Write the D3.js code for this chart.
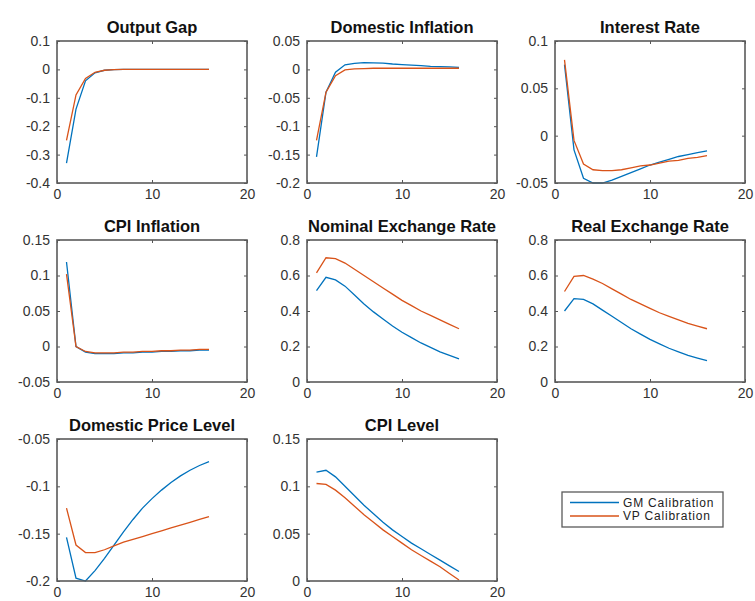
<!DOCTYPE html>
<html>
<head>
<meta charset="UTF-8">
<title>Impulse responses</title>
<script src="https://cdn.jsdelivr.net/npm/d3@7"></script>
<style>
  body { margin: 0; background: #fff; }
  text { font-family: "Liberation Sans", Arial, sans-serif; }
</style>
</head>
<body>
<svg id="chart"></svg>
<script>
var W = 755, H = 601;

var periods = d3.range(1, 17);

var titles = ["Output Gap", "Domestic Inflation", "Interest Rate",
              "CPI Inflation", "Nominal Exchange Rate", "Real Exchange Rate",
              "Domestic Price Level", "CPI Level"];

var seriesNames = ["GM Calibration", "VP Calibration"];

// GM calibration (blue)
var gmOutputGap = [-0.33, -0.14, -0.04, -0.012, -0.003, -0.001, 0, 0, 0, 0, 0, 0, 0, 0, 0, 0];
var gmDomInfl = [-0.154, -0.04, -0.005, 0.008, 0.0105, 0.012, 0.0115, 0.011, 0.0095, 0.0085, 0.0075, 0.0065, 0.0055, 0.005, 0.0045, 0.0035];
var gmInterest = [0.075, -0.015, -0.045, -0.05, -0.05, -0.047, -0.043, -0.039, -0.035, -0.031, -0.028, -0.025, -0.022, -0.02, -0.018, -0.016];
var gmCpiInfl = [0.119, 0.0, -0.008, -0.01, -0.01, -0.01, -0.009, -0.009, -0.008, -0.008, -0.007, -0.007, -0.006, -0.006, -0.005, -0.005];
var gmNominal = [0.515, 0.59, 0.575, 0.54, 0.49, 0.44, 0.395, 0.355, 0.315, 0.28, 0.25, 0.22, 0.195, 0.17, 0.15, 0.13];
var gmReal = [0.40, 0.47, 0.465, 0.44, 0.405, 0.37, 0.335, 0.30, 0.27, 0.24, 0.215, 0.19, 0.17, 0.15, 0.135, 0.12];
var gmDomPrice = [-0.154, -0.197, -0.200, -0.189, -0.176, -0.162, -0.148, -0.135, -0.123, -0.113, -0.104, -0.096, -0.089, -0.083, -0.078, -0.074];
var gmCpiLevel = [0.115, 0.117, 0.110, 0.100, 0.090, 0.080, 0.071, 0.062, 0.054, 0.047, 0.040, 0.034, 0.028, 0.022, 0.016, 0.010];

// VP calibration (orange)
var vpOutputGap = [-0.25, -0.09, -0.032, -0.01, -0.003, -0.001, 0, 0, 0, 0, 0, 0, 0, 0, 0, 0];
var vpDomInfl = [-0.125, -0.04, -0.011, -0.001, 0.001, 0.0015, 0.002, 0.002, 0.002, 0.002, 0.002, 0.002, 0.002, 0.002, 0.002, 0.002];
var vpInterest = [0.08, -0.005, -0.03, -0.036, -0.037, -0.037, -0.036, -0.034, -0.032, -0.031, -0.029, -0.027, -0.026, -0.024, -0.023, -0.021];
var vpCpiInfl = [0.102, 0.0, -0.007, -0.009, -0.009, -0.009, -0.008, -0.008, -0.007, -0.007, -0.006, -0.006, -0.005, -0.005, -0.004, -0.004];
var vpNominal = [0.615, 0.70, 0.695, 0.67, 0.635, 0.60, 0.565, 0.53, 0.495, 0.46, 0.43, 0.40, 0.375, 0.35, 0.325, 0.30];
var vpReal = [0.51, 0.595, 0.60, 0.58, 0.555, 0.525, 0.495, 0.465, 0.44, 0.415, 0.39, 0.37, 0.35, 0.33, 0.315, 0.30];
var vpDomPrice = [-0.123, -0.162, -0.170, -0.170, -0.167, -0.163, -0.159, -0.156, -0.153, -0.150, -0.147, -0.144, -0.141, -0.138, -0.135, -0.132];
var vpCpiLevel = [0.103, 0.102, 0.096, 0.088, 0.079, 0.070, 0.062, 0.054, 0.047, 0.040, 0.033, 0.027, 0.021, 0.015, 0.008, 0.001];

var gm = [gmOutputGap, gmDomInfl, gmInterest, gmCpiInfl, gmNominal, gmReal, gmDomPrice, gmCpiLevel];
var vp = [vpOutputGap, vpDomInfl, vpInterest, vpCpiInfl, vpNominal, vpReal, vpDomPrice, vpCpiLevel];

// y-axis limits and tick labels per panel
var yDomains = [[-0.4, 0.1], [-0.2, 0.05], [-0.05, 0.1], [-0.05, 0.15],
                [0, 0.8], [0, 0.8], [-0.2, -0.05], [0, 0.15]];
var yTicks = [[-0.4, -0.3, -0.2, -0.1, 0, 0.1],
              [-0.2, -0.15, -0.1, -0.05, 0, 0.05],
              [-0.05, 0, 0.05, 0.1],
              [-0.05, 0, 0.05, 0.1, 0.15],
              [0, 0.2, 0.4, 0.6, 0.8],
              [0, 0.2, 0.4, 0.6, 0.8],
              [-0.2, -0.15, -0.1, -0.05],
              [0, 0.05, 0.1, 0.15]];
var xTicks = [0, 10, 20];

var colors = ["#0072BD", "#D95319"];

var colLeft = [57, 307, 555], rowTop = [41, 240, 439];
var pw = 190, ph = 142;

var svg = d3.select("#chart").attr("width", W).attr("height", H);

// matlab style labels: plain hyphen for minus
var fmt = function (d) { return String(+d.toFixed(4)); };

titles.forEach(function (title, i) {
    var col = i % 3, row = Math.floor(i / 3);
    var g = svg.append("g")
        .attr("transform", "translate(" + colLeft[col] + "," + rowTop[row] + ")");

    var x = d3.scaleLinear().domain([0, 20]).range([0, pw]);
    var y = d3.scaleLinear().domain(yDomains[i]).range([ph, 0]);

    // inner ticks on all four sides, box style
    var axes = [
        {ax: d3.axisBottom(x).tickValues(xTicks).tickSize(-3).tickPadding(6).tickFormat(fmt), t: "translate(0," + ph + ")"},
        {ax: d3.axisTop(x).tickValues(xTicks).tickSize(-3).tickFormat(""), t: "translate(0,0)"},
        {ax: d3.axisLeft(y).tickValues(yTicks[i]).tickSize(-3).tickPadding(7).tickFormat(fmt), t: "translate(0,0)"},
        {ax: d3.axisRight(y).tickValues(yTicks[i]).tickSize(-3).tickFormat(""), t: "translate(" + pw + ",0)"}
    ];
    axes.forEach(function (a) {
        var ag = g.append("g").attr("transform", a.t).call(a.ax);
        ag.select(".domain").remove();
        ag.selectAll("line").attr("stroke", "#555").attr("stroke-width", 1);
        ag.selectAll("text").attr("fill", "#333").style("font-size", "14px");
    });

    var line = d3.line()
        .x(function (d, j) { return x(periods[j]); })
        .y(function (d) { return y(d); });

    [gm[i], vp[i]].forEach(function (vals, k) {
        g.append("path")
            .datum(vals)
            .attr("fill", "none")
            .attr("stroke", colors[k])
            .attr("stroke-width", 1.3)
            .attr("d", line);
    });

    g.append("rect")
        .attr("width", pw).attr("height", ph)
        .attr("fill", "none")
        .attr("stroke", "#5a5a5a")
        .attr("stroke-width", 1.6);

    g.append("text")
        .attr("x", pw / 2).attr("y", -8)
        .attr("text-anchor", "middle")
        .style("font-size", "16.5px")
        .style("font-weight", "bold")
        .attr("fill", "#111")
        .text(title);
});

// legend
var leg = svg.append("g").attr("transform", "translate(562,492)");
leg.append("rect")
    .attr("width", 161).attr("height", 35)
    .attr("fill", "#fff")
    .attr("stroke", "#5a5a5a").attr("stroke-width", 1.3);
seriesNames.forEach(function (name, k) {
    var yy = 10.5 + k * 13.5;
    leg.append("line")
        .attr("x1", 8).attr("x2", 57)
        .attr("y1", yy).attr("y2", yy)
        .attr("stroke", colors[k]).attr("stroke-width", 1.3);
    leg.append("text")
        .attr("x", 61).attr("y", yy + 4)
        .style("font-size", "12px")
        .style("letter-spacing", "0.8px")
        .attr("fill", "#222")
        .text(name);
});
</script>
</body>
</html>
